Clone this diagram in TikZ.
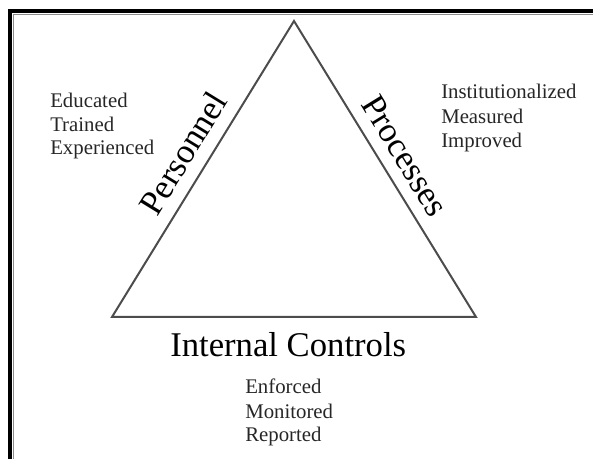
\documentclass[tikz,border=0pt]{standalone}
\usepackage{fontspec}
\setmainfont{Liberation Serif}
\begin{document}
\begin{tikzpicture}[x=0.75pt,y=-0.75pt,
  edge/.style={draw=black!70, line width=1.5pt, line join=miter},
  big/.style={inner sep=0pt, font=\fontsize{26}{30}\selectfont, text=black},
  small/.style={inner sep=0pt, anchor=base west, font=\fontsize{15.6}{17.6}\selectfont, text=black!85}]
\useasboundingbox (0,0) rectangle (593,459);
% frame
\draw[black, line width=3pt] (10,459) -- (10,11) -- (593,11);
\draw[black!45, line width=1.2pt] (13.6,459) -- (13.6,14.6) -- (593,14.6);
% triangle
\coordinate (A) at (112,317);
\coordinate (B) at (476,317);
\coordinate (T) at (294,21);
\draw[edge] (A) -- (T) -- (B) -- cycle;
% side labels
\node[big, rotate=58.4] (pers) at (183,153) {Personnel};
\node[big, rotate=-58.4] (proc) at (405,156) {Processes};
\node[big, anchor=base west] (ic) at (170,357) {Internal Controls};
% lists
\node[small] (l1) at (50,108) {Educated};
\node[small] (l2) at (50,131.5) {Trained};
\node[small] (l3) at (50,155) {Experienced};
\node[small] (r1) at (441,99) {Institutionalized};
\node[small] (r2) at (441,123.5) {Measured};
\node[small] (r3) at (441,148) {Improved};
\node[small] (b1) at (245,394) {Enforced};
\node[small] (b2) at (245,418.5) {Monitored};
\node[small] (b3) at (245,442) {Reported};
\end{tikzpicture}
\end{document}
